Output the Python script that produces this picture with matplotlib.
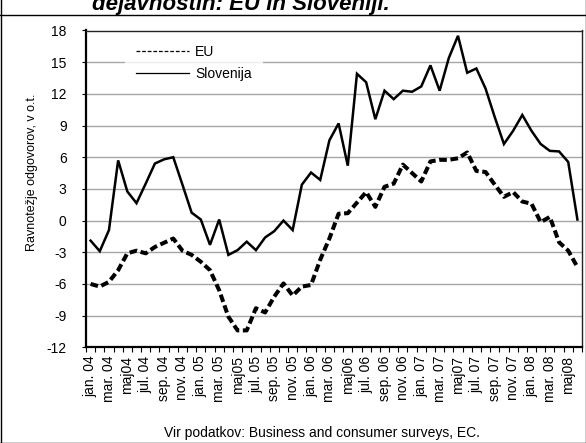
import numpy as np
import matplotlib
matplotlib.use('Agg')
import matplotlib.pyplot as plt
from matplotlib.lines import Line2D

plt.rcParams['font.family'] = ['Liberation Sans', 'DejaVu Sans']

# monthly data jan.04 - jun.08 (balance of answers)
months = ['jan', 'feb', 'mar', 'apr', 'maj', 'jun', 'jul', 'avg', 'sep', 'okt', 'nov', 'dec']
slovenija = [-1.9, -2.9, -0.9, 5.7, 2.75, 1.65, 3.5, 5.4, 5.8, 6.0, 3.4, 0.75,
             0.1, -2.3, 0.1, -3.25, -2.8, -2.0, -2.8, -1.6, -1.0, 0.0, -0.9, 3.4,
             4.55, 3.85, 7.6, 9.2, 5.2, 13.9, 13.1, 9.6, 12.3, 11.5, 12.3, 12.2,
             12.7, 14.7, 12.3, 15.4, 17.5, 14.0, 14.4, 12.5, 9.8, 7.25, 8.5, 10.0,
             8.5, 7.25, 6.6, 6.55, 5.55, 0.1]
eu = [-6.0, -6.25, -5.8, -4.7, -3.1, -2.85, -3.1, -2.5, -2.1, -1.7, -2.85, -3.25,
      -3.9, -4.7, -6.6, -9.1, -10.4, -10.4, -8.3, -8.7, -7.2, -5.95, -7.1, -6.25,
      -6.1, -3.7, -1.7, 0.65, 0.7, 1.7, 2.7, 1.3, 3.2, 3.5, 5.3, 4.5,
      3.7, 5.6, 5.75, 5.75, 5.9, 6.45, 4.7, 4.6, 3.4, 2.25, 2.7, 1.8,
      1.6, -0.15, 0.35, -2.05, -2.85, -4.4]
tick_labels = ['jan. 04', 'mar. 04', 'maj04', 'jul. 04', 'sep. 04', 'nov. 04',
               'jan. 05', 'mar. 05', 'maj05', 'jul. 05', 'sep. 05', 'nov. 05',
               'jan. 06', 'mar. 06', 'maj06', 'jul. 06', 'sep. 06', 'nov. 06',
               'jan. 07', 'mar. 07', 'maj07', 'jul. 07', 'sep. 07', 'nov. 07',
               'jan. 08', 'mar. 08', 'maj08']
y_ticks = [-12, -9, -6, -3, 0, 3, 6, 9, 12, 15, 18]

x = np.arange(len(slovenija))

fig = plt.figure(figsize=(5.86, 4.43), dpi=100)
ax = fig.add_axes([86 / 586, 1 - 347.3 / 443, 496 / 586, (347.3 - 30.5) / 443])

# gridlines
for yv in y_ticks[1:-1]:
    ax.axhline(yv, color='#a6a6a6', lw=1.0, zorder=1)

ax.plot(x, slovenija, color='black', lw=1.8, zorder=3, solid_joinstyle='miter')
ax.plot(x, eu, color='black', lw=2.9, linestyle=(0, (1.9, 0.9)), zorder=3)

ax.set_xlim(-0.5, len(x) - 0.5)
ax.set_ylim(-12, 18)
ax.set_yticks(y_ticks)
ax.set_yticklabels([str(v) for v in y_ticks], fontsize=10)
ax.tick_params(axis='y', length=3, width=0.8, pad=11, direction='out')

ax.set_xticks(x[::2])
ax.set_xticklabels(tick_labels, rotation=90, fontsize=10)
ax.set_xticks(np.arange(len(x) + 1) - 0.5, minor=True)
ax.tick_params(axis='x', which='major', length=0, pad=6)
ax.tick_params(axis='x', which='minor', length=3.5, width=0.8, direction='out')

ax.spines['left'].set_linewidth(1.6)
ax.spines['bottom'].set_linewidth(1.6)
ax.spines['top'].set_linewidth(1.0)
ax.spines['right'].set_linewidth(1.0)
ax.spines['top'].set_color('#222222')
ax.spines['right'].set_color('#222222')

handles = [Line2D([], [], color='black', lw=0.9, linestyle=(0, (3, 1.5))),
           Line2D([], [], color='black', lw=0.9)]
leg = ax.legend(handles, ['EU', 'Slovenija'], loc='center', bbox_to_anchor=(0.218, 0.897),
                fontsize=10, frameon=True, fancybox=False, handlelength=3.8,
                handletextpad=0.45, borderpad=0.8, labelspacing=0.55, borderaxespad=0)
leg.get_frame().set_facecolor('white')
leg.get_frame().set_edgecolor('none')

fig.text(32 / 586, 1 - 172 / 443, 'Ravnotežje odgovorov, v o.t.', rotation=90,
         ha='center', va='center', fontsize=9)
fig.text(322 / 586, 1 - 433 / 443, 'Vir podatkov: Business and consumer surveys, EC.',
         ha='center', va='center', fontsize=10)

# title cut off at top of the picture
fig.text(92 / 586, 1 - 10 / 443, 'dejavnostih: EU in Sloveniji.', ha='left', va='baseline',
         fontsize=16, fontweight='bold', fontstyle='italic')

# outer frame
fig.add_artist(Line2D([0, 1], [1 - 15 / 443] * 2, color='black', lw=1.0, transform=fig.transFigure))
fig.add_artist(Line2D([0.5 / 586] * 2, [0, 1], color='black', lw=1.0, transform=fig.transFigure))
fig.add_artist(Line2D([585.5 / 586] * 2, [0, 1], color='black', lw=1.0, transform=fig.transFigure))
fig.add_artist(Line2D([0, 1], [0.5 / 443] * 2, color='black', lw=1.0, transform=fig.transFigure))

fig.savefig('out.png', dpi=100)
